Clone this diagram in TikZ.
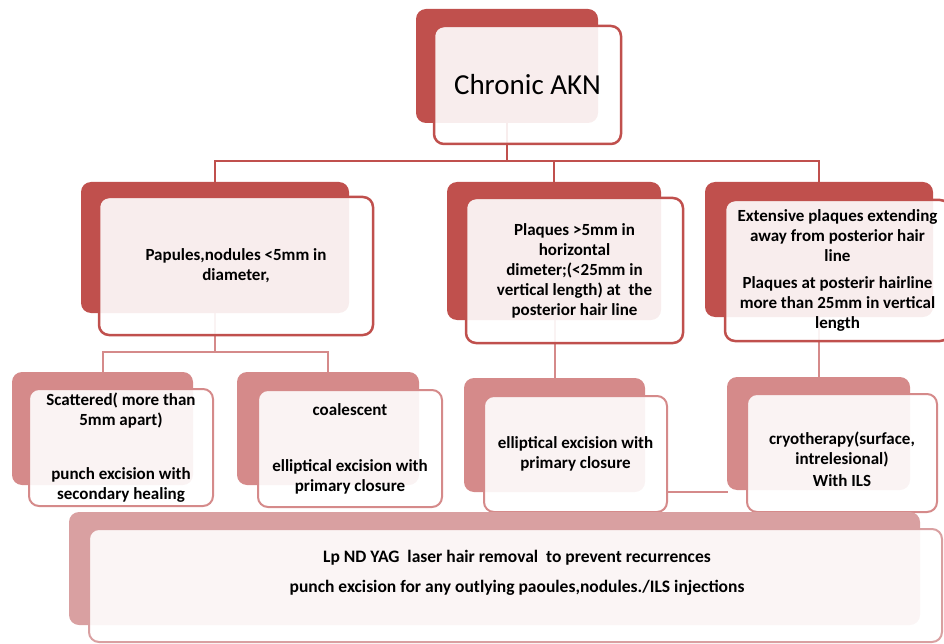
\documentclass[tikz,border=0pt]{standalone}
\usepackage{fontspec}
\setmainfont{Carlito}
\usepackage{tikz}
\usetikzlibrary{backgrounds}

\definecolor{akred}{RGB}{192,80,77}
\definecolor{akpink}{RGB}{213,138,138}
\definecolor{aklight}{RGB}{217,160,161}

\tikzset{
  backred/.style={fill=akred, rounded corners=10pt, inner sep=0pt},
  backpink/.style={fill=akpink, rounded corners=10pt, inner sep=0pt},
  backlight/.style={fill=aklight, rounded corners=10pt, inner sep=0pt},
  frontred/.style={draw=akred, line width=2.5pt, fill=white, fill opacity=0.9, text opacity=1,
    rounded corners=10pt, inner sep=0pt, align=center, font=\bfseries\fontsize{17}{20}\selectfont},
  frontpink/.style={frontred, draw=akpink, line width=2pt},
  frontlight/.style={frontred, draw=aklight, line width=2pt},
  link/.style={draw=akred, line width=2pt},
  linkp/.style={draw=akpink, line width=2pt},
  txt/.style={align=center, font=\bfseries\fontsize{17.5}{30}\selectfont}
}

\begin{document}
\begin{tikzpicture}[x=1pt, y=-1pt]
\useasboundingbox (0,0) rectangle (944,644);

% top
\node[backred, minimum width=182, minimum height=114](bktop) at (507,66) {};
\node[frontred, minimum width=187, minimum height=118, font=\fontsize{29}{34}\selectfont](akn) at (527.5,85) {Chronic AKN};

% second row
\node[backred, minimum width=268, minimum height=131](bkpap) at (215,247.5) {};
\node[frontred, minimum width=274, minimum height=138](papules) at (236,266)
  {Papules,nodules <5mm in\\diameter,};
\node[backred, minimum width=214, minimum height=138](bkplq) at (554,251) {};
\node[frontred, minimum width=217, minimum height=145](plaques) at (574.5,270.5)
  {Plaques >5mm in\\horizontal\\dimeter;(<25mm in\\vertical length) at~ the\\posterior hair line};
\node[backred, minimum width=228, minimum height=135](bkext) at (819,249.5) {};
\node[frontred, minimum width=225, minimum height=141](extensive) at (837.5,270.5)
  {Extensive plaques extending\\away from posterior hair\\line\\[7pt]Plaques at posterir hairline\\more than 25mm in vertical\\length};

% third row
\node[backpink, minimum width=181, minimum height=113](bkscat) at (102.5,428.5) {};
\node[frontpink, minimum width=184, minimum height=117](scattered) at (121,447.5)
  {Scattered( more than\\5mm apart)\\[34pt]punch excision with\\secondary healing};
\node[backpink, minimum width=182, minimum height=113](bkcoal) at (328,428.5) {};
\node[frontpink, minimum width=184, minimum height=117](coalescent) at (350,448.5)
  {coalescent\\[36pt]elliptical excision with\\primary closure};
\node[backpink, minimum width=181, minimum height=114](bkell) at (554.5,435) {};
\node[frontpink, minimum width=183, minimum height=116](elliptical) at (575.5,454)
  {elliptical excision with\\primary closure};
\node[backpink, minimum width=183, minimum height=113](bkcryo) at (818.5,433.5) {};
\node[frontpink, minimum width=190, minimum height=118](cryo) at (842,453)
  {\rule{0pt}{26pt}cryotherapy(surface,\\intrelesional)\\[2pt]With ILS};

% bottom
\node[backlight, minimum width=851, minimum height=113](bkrecur) at (494.5,568.5) {};
\node[frontlight, minimum width=853, minimum height=113](recur) at (515.5,585.5) {};
\node[txt](recurtxt) at (517,573)
  {Lp ND YAG~ laser hair removal~ to prevent recurrences\\punch excision for any outlying paoules,nodules./ILS injections};

% connectors behind the boxes
\coordinate (hub1) at (507,161);
\coordinate (hub2) at (215,352);
\coordinate (hub3) at (728,492);
\begin{scope}[on background layer]
\draw[link] (bktop.south) -- (hub1);
\draw[link] (bkpap.north) |- (hub1);
\draw[link] (bkext.north) |- (hub1);
\draw[link] (bkplq.north) -- (bkplq.north |- hub1);
\draw[linkp] (bkpap.south) -- (hub2);
\draw[linkp] (bkscat.north) |- (hub2);
\draw[linkp] (bkcoal.north) |- (hub2);
\draw[linkp] (bkell.north) -- (bkell.north |- bkplq.south);
\draw[linkp] (bkcryo.north) -- (bkcryo.north |- bkext.south);
\draw[linkp] (elliptical.east |- hub3) -- (hub3);
\end{scope}
\end{tikzpicture}
\end{document}
